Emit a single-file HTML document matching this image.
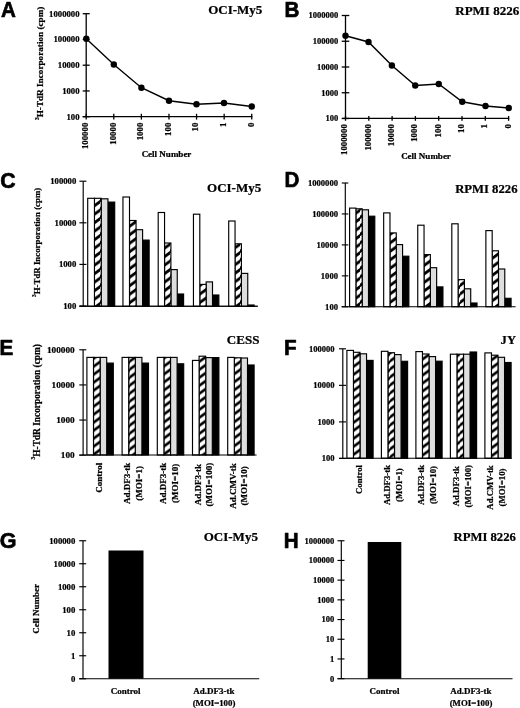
<!DOCTYPE html>
<html><head><meta charset="utf-8"><title>Figure</title>
<style>html,body{margin:0;padding:0;background:#fff;}svg{display:block;}</style>
</head><body>
<svg width="520" height="708" viewBox="0 0 520 708">
<defs>
<pattern id="hatch" patternUnits="userSpaceOnUse" width="10" height="8.5" patternTransform="translate(0,5.6)"><path d="M-10,15.3 L20,-6.8 M-10,23.8 L20,1.7 M-10,6.8 L20,-15.3" stroke="#000" stroke-width="2.8" fill="none"/></pattern>
<pattern id="hatch2" patternUnits="userSpaceOnUse" width="10" height="8.0" patternTransform="translate(0,1.5)"><path d="M-10,14.8 L20,-6.8 M-10,22.8 L20,1.2 M-10,6.8 L20,-14.8" stroke="#000" stroke-width="2.7" fill="none"/></pattern>
<filter id="gray" filterUnits="userSpaceOnUse" x="0" y="0" width="520" height="708" color-interpolation-filters="sRGB"><feGaussianBlur stdDeviation="0.35"/><feColorMatrix type="saturate" values="0"/></filter>
</defs>
<rect width="520" height="708" fill="#fff"/>
<g filter="url(#gray)">
<rect width="520" height="708" fill="#fff"/>
<text transform="translate(0.90,16.60) scale(0.94,1)" font-family='"Liberation Sans", sans-serif' font-size="21.9" font-weight="bold" stroke="#000" stroke-width="0.7" stroke-linejoin="round">A</text>
<text x="262.30" y="13.60" font-family='"Liberation Serif", serif' font-size="13" font-weight="bold" text-anchor="end" stroke="#000" stroke-width="0.24" >OCI-My5</text>
<line x1="86.20" y1="13.70" x2="86.20" y2="116.70" stroke="#000" stroke-width="1.3"/>
<line x1="82.70" y1="13.70" x2="89.70" y2="13.70" stroke="#000" stroke-width="1.3"/>
<text x="79.50" y="16.60" font-family='"Liberation Serif", serif' font-size="8.7" font-weight="bold" text-anchor="end" stroke="#000" stroke-width="0.24" >1000000</text>
<line x1="82.70" y1="39.45" x2="89.70" y2="39.45" stroke="#000" stroke-width="1.3"/>
<text x="79.50" y="42.35" font-family='"Liberation Serif", serif' font-size="8.7" font-weight="bold" text-anchor="end" stroke="#000" stroke-width="0.24" >100000</text>
<line x1="82.70" y1="65.20" x2="89.70" y2="65.20" stroke="#000" stroke-width="1.3"/>
<text x="79.50" y="68.10" font-family='"Liberation Serif", serif' font-size="8.7" font-weight="bold" text-anchor="end" stroke="#000" stroke-width="0.24" >10000</text>
<line x1="82.70" y1="90.95" x2="89.70" y2="90.95" stroke="#000" stroke-width="1.3"/>
<text x="79.50" y="93.85" font-family='"Liberation Serif", serif' font-size="8.7" font-weight="bold" text-anchor="end" stroke="#000" stroke-width="0.24" >1000</text>
<line x1="82.70" y1="116.70" x2="89.70" y2="116.70" stroke="#000" stroke-width="1.3"/>
<text x="79.50" y="119.60" font-family='"Liberation Serif", serif' font-size="8.7" font-weight="bold" text-anchor="end" stroke="#000" stroke-width="0.24" >100</text>
<text transform="translate(43.40,120.00) rotate(-90)" font-family='"Liberation Serif", serif' font-size="9.2" font-weight="bold" text-anchor="start" stroke="#000" stroke-width="0.24"><tspan font-size="5.34" dy="-4.23">3</tspan><tspan dy="4.23">H-TdR Incorporation (cpm)</tspan></text>
<line x1="82.70" y1="116.70" x2="252.34" y2="116.70" stroke="#000" stroke-width="1.3"/>
<line x1="86.20" y1="113.80" x2="86.20" y2="119.60" stroke="#000" stroke-width="1.3"/>
<text transform="translate(88.10,122.70) rotate(-90)" font-family='"Liberation Serif", serif' font-size="8.8" font-weight="bold" text-anchor="end" stroke="#000" stroke-width="0.24">100000</text>
<line x1="113.79" y1="113.80" x2="113.79" y2="119.60" stroke="#000" stroke-width="1.3"/>
<text transform="translate(115.69,122.70) rotate(-90)" font-family='"Liberation Serif", serif' font-size="8.8" font-weight="bold" text-anchor="end" stroke="#000" stroke-width="0.24">10000</text>
<line x1="141.38" y1="113.80" x2="141.38" y2="119.60" stroke="#000" stroke-width="1.3"/>
<text transform="translate(143.28,122.70) rotate(-90)" font-family='"Liberation Serif", serif' font-size="8.8" font-weight="bold" text-anchor="end" stroke="#000" stroke-width="0.24">1000</text>
<line x1="168.97" y1="113.80" x2="168.97" y2="119.60" stroke="#000" stroke-width="1.3"/>
<text transform="translate(170.87,122.70) rotate(-90)" font-family='"Liberation Serif", serif' font-size="8.8" font-weight="bold" text-anchor="end" stroke="#000" stroke-width="0.24">100</text>
<line x1="196.56" y1="113.80" x2="196.56" y2="119.60" stroke="#000" stroke-width="1.3"/>
<text transform="translate(198.46,122.70) rotate(-90)" font-family='"Liberation Serif", serif' font-size="8.8" font-weight="bold" text-anchor="end" stroke="#000" stroke-width="0.24">10</text>
<line x1="224.15" y1="113.80" x2="224.15" y2="119.60" stroke="#000" stroke-width="1.3"/>
<text transform="translate(226.05,122.70) rotate(-90)" font-family='"Liberation Serif", serif' font-size="8.8" font-weight="bold" text-anchor="end" stroke="#000" stroke-width="0.24">1</text>
<line x1="251.74" y1="113.80" x2="251.74" y2="119.60" stroke="#000" stroke-width="1.3"/>
<text transform="translate(253.64,122.70) rotate(-90)" font-family='"Liberation Serif", serif' font-size="8.8" font-weight="bold" text-anchor="end" stroke="#000" stroke-width="0.24">0</text>
<text x="166.50" y="157.40" font-family='"Liberation Serif", serif' font-size="9" font-weight="bold" text-anchor="middle" stroke="#000" stroke-width="0.24" >Cell Number</text>
<polyline fill="none" stroke="#000" stroke-width="1.4" points="86.30,38.80 113.80,64.50 141.40,87.70 169.00,100.75 196.50,104.25 224.00,103.00 251.75,106.50"/>
<circle cx="86.30" cy="38.80" r="3.2" fill="#000"/>
<circle cx="113.80" cy="64.50" r="3.2" fill="#000"/>
<circle cx="141.40" cy="87.70" r="3.2" fill="#000"/>
<circle cx="169.00" cy="100.75" r="3.2" fill="#000"/>
<circle cx="196.50" cy="104.25" r="3.2" fill="#000"/>
<circle cx="224.00" cy="103.00" r="3.2" fill="#000"/>
<circle cx="251.75" cy="106.50" r="3.2" fill="#000"/>
<text transform="translate(284.50,16.60) scale(0.94,1)" font-family='"Liberation Sans", sans-serif' font-size="21.9" font-weight="bold" stroke="#000" stroke-width="0.7" stroke-linejoin="round">B</text>
<text x="519.20" y="15.25" font-family='"Liberation Serif", serif' font-size="13" font-weight="bold" text-anchor="end" stroke="#000" stroke-width="0.24" >RPMI 8226</text>
<line x1="345.50" y1="15.50" x2="345.50" y2="118.50" stroke="#000" stroke-width="1.3"/>
<line x1="341.70" y1="15.50" x2="349.30" y2="15.50" stroke="#000" stroke-width="1.3"/>
<text x="338.20" y="18.40" font-family='"Liberation Serif", serif' font-size="8.5" font-weight="bold" text-anchor="end" stroke="#000" stroke-width="0.24" >1000000</text>
<line x1="341.70" y1="41.25" x2="349.30" y2="41.25" stroke="#000" stroke-width="1.3"/>
<text x="338.20" y="44.15" font-family='"Liberation Serif", serif' font-size="8.5" font-weight="bold" text-anchor="end" stroke="#000" stroke-width="0.24" >100000</text>
<line x1="341.70" y1="67.00" x2="349.30" y2="67.00" stroke="#000" stroke-width="1.3"/>
<text x="338.20" y="69.90" font-family='"Liberation Serif", serif' font-size="8.5" font-weight="bold" text-anchor="end" stroke="#000" stroke-width="0.24" >10000</text>
<line x1="341.70" y1="92.75" x2="349.30" y2="92.75" stroke="#000" stroke-width="1.3"/>
<text x="338.20" y="95.65" font-family='"Liberation Serif", serif' font-size="8.5" font-weight="bold" text-anchor="end" stroke="#000" stroke-width="0.24" >1000</text>
<line x1="341.70" y1="118.50" x2="349.30" y2="118.50" stroke="#000" stroke-width="1.3"/>
<text x="338.20" y="121.40" font-family='"Liberation Serif", serif' font-size="8.5" font-weight="bold" text-anchor="end" stroke="#000" stroke-width="0.24" >100</text>
<line x1="342.30" y1="118.30" x2="509.20" y2="118.30" stroke="#000" stroke-width="1.3"/>
<line x1="345.50" y1="116.00" x2="345.50" y2="120.80" stroke="#000" stroke-width="1.3"/>
<text transform="translate(347.40,124.20) rotate(-90)" font-family='"Liberation Serif", serif' font-size="8.8" font-weight="bold" text-anchor="end" stroke="#000" stroke-width="0.24">1000000</text>
<line x1="368.80" y1="116.00" x2="368.80" y2="120.80" stroke="#000" stroke-width="1.3"/>
<text transform="translate(370.70,124.20) rotate(-90)" font-family='"Liberation Serif", serif' font-size="8.8" font-weight="bold" text-anchor="end" stroke="#000" stroke-width="0.24">100000</text>
<line x1="392.10" y1="116.00" x2="392.10" y2="120.80" stroke="#000" stroke-width="1.3"/>
<text transform="translate(394.00,124.20) rotate(-90)" font-family='"Liberation Serif", serif' font-size="8.8" font-weight="bold" text-anchor="end" stroke="#000" stroke-width="0.24">10000</text>
<line x1="415.40" y1="116.00" x2="415.40" y2="120.80" stroke="#000" stroke-width="1.3"/>
<text transform="translate(417.30,124.20) rotate(-90)" font-family='"Liberation Serif", serif' font-size="8.8" font-weight="bold" text-anchor="end" stroke="#000" stroke-width="0.24">1000</text>
<line x1="438.70" y1="116.00" x2="438.70" y2="120.80" stroke="#000" stroke-width="1.3"/>
<text transform="translate(440.60,124.20) rotate(-90)" font-family='"Liberation Serif", serif' font-size="8.8" font-weight="bold" text-anchor="end" stroke="#000" stroke-width="0.24">100</text>
<line x1="462.00" y1="116.00" x2="462.00" y2="120.80" stroke="#000" stroke-width="1.3"/>
<text transform="translate(463.90,124.20) rotate(-90)" font-family='"Liberation Serif", serif' font-size="8.8" font-weight="bold" text-anchor="end" stroke="#000" stroke-width="0.24">10</text>
<line x1="485.30" y1="116.00" x2="485.30" y2="120.80" stroke="#000" stroke-width="1.3"/>
<text transform="translate(487.20,124.20) rotate(-90)" font-family='"Liberation Serif", serif' font-size="8.8" font-weight="bold" text-anchor="end" stroke="#000" stroke-width="0.24">1</text>
<line x1="508.60" y1="116.00" x2="508.60" y2="120.80" stroke="#000" stroke-width="1.3"/>
<text transform="translate(510.50,124.20) rotate(-90)" font-family='"Liberation Serif", serif' font-size="8.8" font-weight="bold" text-anchor="end" stroke="#000" stroke-width="0.24">0</text>
<text x="426.00" y="159.00" font-family='"Liberation Serif", serif' font-size="9" font-weight="bold" text-anchor="middle" stroke="#000" stroke-width="0.24" >Cell Number</text>
<polyline fill="none" stroke="#000" stroke-width="1.4" points="345.50,35.75 368.50,42.00 391.90,65.50 415.25,85.50 438.75,84.00 462.25,101.75 485.50,106.00 508.75,108.00"/>
<circle cx="345.50" cy="35.75" r="3.2" fill="#000"/>
<circle cx="368.50" cy="42.00" r="3.2" fill="#000"/>
<circle cx="391.90" cy="65.50" r="3.2" fill="#000"/>
<circle cx="415.25" cy="85.50" r="3.2" fill="#000"/>
<circle cx="438.75" cy="84.00" r="3.2" fill="#000"/>
<circle cx="462.25" cy="101.75" r="3.2" fill="#000"/>
<circle cx="485.50" cy="106.00" r="3.2" fill="#000"/>
<circle cx="508.75" cy="108.00" r="3.2" fill="#000"/>
<text transform="translate(0.30,188.30) scale(0.94,1)" font-family='"Liberation Sans", sans-serif' font-size="22.6" font-weight="bold" stroke="#000" stroke-width="0.7" stroke-linejoin="round">C</text>
<text x="261.20" y="191.70" font-family='"Liberation Serif", serif' font-size="13" font-weight="bold" text-anchor="end" stroke="#000" stroke-width="0.24" >OCI-My5</text>
<line x1="83.20" y1="181.20" x2="83.20" y2="306.20" stroke="#000" stroke-width="1.15"/>
<line x1="79.40" y1="181.20" x2="86.40" y2="181.20" stroke="#000" stroke-width="1.15"/>
<text x="76.30" y="184.10" font-family='"Liberation Serif", serif' font-size="8.7" font-weight="bold" text-anchor="end" stroke="#000" stroke-width="0.24" >100000</text>
<line x1="79.40" y1="222.80" x2="86.40" y2="222.80" stroke="#000" stroke-width="1.15"/>
<text x="76.30" y="225.70" font-family='"Liberation Serif", serif' font-size="8.7" font-weight="bold" text-anchor="end" stroke="#000" stroke-width="0.24" >10000</text>
<line x1="79.40" y1="264.40" x2="86.40" y2="264.40" stroke="#000" stroke-width="1.15"/>
<text x="76.30" y="267.30" font-family='"Liberation Serif", serif' font-size="8.7" font-weight="bold" text-anchor="end" stroke="#000" stroke-width="0.24" >1000</text>
<line x1="79.40" y1="306.00" x2="86.40" y2="306.00" stroke="#000" stroke-width="1.15"/>
<text x="76.30" y="308.90" font-family='"Liberation Serif", serif' font-size="8.7" font-weight="bold" text-anchor="end" stroke="#000" stroke-width="0.24" >100</text>
<text transform="translate(40.30,296.90) rotate(-90)" font-family='"Liberation Serif", serif' font-size="8.85" font-weight="bold" text-anchor="start" stroke="#000" stroke-width="0.24"><tspan font-size="5.13" dy="-4.07">3</tspan><tspan dy="4.07">H-TdR Incorporation (cpm)</tspan></text>
<line x1="79.40" y1="306.20" x2="257.70" y2="306.20" stroke="#000" stroke-width="1.15"/>
<rect x="107.95" y="202.10" width="6.75" height="104.10" fill="#000" stroke="#000" stroke-width="1.15"/>
<rect x="101.20" y="198.80" width="6.75" height="107.40" fill="#dedede" stroke="#000" stroke-width="1.15"/>
<rect x="94.45" y="198.30" width="6.75" height="107.90" fill="#fff"/>
<rect x="94.45" y="198.30" width="6.75" height="107.90" fill="url(#hatch)" stroke="#000" stroke-width="1.15"/>
<rect x="87.70" y="198.30" width="6.75" height="107.90" fill="#fff" stroke="#000" stroke-width="1.15"/>
<rect x="142.60" y="240.10" width="6.55" height="66.10" fill="#000" stroke="#000" stroke-width="1.15"/>
<rect x="136.05" y="229.70" width="6.55" height="76.50" fill="#dedede" stroke="#000" stroke-width="1.15"/>
<rect x="129.50" y="220.50" width="6.55" height="85.70" fill="#fff"/>
<rect x="129.50" y="220.50" width="6.55" height="85.70" fill="url(#hatch)" stroke="#000" stroke-width="1.15"/>
<rect x="122.95" y="197.00" width="6.55" height="109.20" fill="#fff" stroke="#000" stroke-width="1.15"/>
<rect x="177.25" y="294.00" width="6.35" height="12.20" fill="#000" stroke="#000" stroke-width="1.15"/>
<rect x="170.90" y="269.60" width="6.35" height="36.60" fill="#dedede" stroke="#000" stroke-width="1.15"/>
<rect x="164.55" y="243.00" width="6.35" height="63.20" fill="#fff"/>
<rect x="164.55" y="243.00" width="6.35" height="63.20" fill="url(#hatch)" stroke="#000" stroke-width="1.15"/>
<rect x="158.20" y="212.50" width="6.35" height="93.70" fill="#fff" stroke="#000" stroke-width="1.15"/>
<rect x="212.50" y="295.00" width="6.35" height="11.20" fill="#000" stroke="#000" stroke-width="1.15"/>
<rect x="206.15" y="281.90" width="6.35" height="24.30" fill="#dedede" stroke="#000" stroke-width="1.15"/>
<rect x="199.80" y="284.40" width="6.35" height="21.80" fill="#fff"/>
<rect x="199.80" y="284.40" width="6.35" height="21.80" fill="url(#hatch)" stroke="#000" stroke-width="1.15"/>
<rect x="193.45" y="214.20" width="6.35" height="92.00" fill="#fff" stroke="#000" stroke-width="1.15"/>
<rect x="247.75" y="305.00" width="6.35" height="1.20" fill="#000" stroke="#000" stroke-width="1.15"/>
<rect x="241.40" y="273.40" width="6.35" height="32.80" fill="#dedede" stroke="#000" stroke-width="1.15"/>
<rect x="235.05" y="243.80" width="6.35" height="62.40" fill="#fff"/>
<rect x="235.05" y="243.80" width="6.35" height="62.40" fill="url(#hatch)" stroke="#000" stroke-width="1.15"/>
<rect x="228.70" y="221.00" width="6.35" height="85.20" fill="#fff" stroke="#000" stroke-width="1.15"/>
<line x1="79.40" y1="306.20" x2="257.70" y2="306.20" stroke="#000" stroke-width="1.15"/>
<text transform="translate(284.50,187.40) scale(0.94,1)" font-family='"Liberation Sans", sans-serif' font-size="21.9" font-weight="bold" stroke="#000" stroke-width="0.7" stroke-linejoin="round">D</text>
<text x="517.50" y="193.00" font-family='"Liberation Serif", serif' font-size="12.7" font-weight="bold" text-anchor="end" stroke="#000" stroke-width="0.24" >RPMI 8226</text>
<line x1="345.30" y1="183.00" x2="345.30" y2="306.70" stroke="#000" stroke-width="1.15"/>
<line x1="341.80" y1="183.00" x2="348.30" y2="183.00" stroke="#000" stroke-width="1.15"/>
<text x="338.00" y="185.90" font-family='"Liberation Serif", serif' font-size="8.6" font-weight="bold" text-anchor="end" stroke="#000" stroke-width="0.24" >1000000</text>
<line x1="341.80" y1="213.95" x2="348.30" y2="213.95" stroke="#000" stroke-width="1.15"/>
<text x="338.00" y="216.85" font-family='"Liberation Serif", serif' font-size="8.6" font-weight="bold" text-anchor="end" stroke="#000" stroke-width="0.24" >100000</text>
<line x1="341.80" y1="244.90" x2="348.30" y2="244.90" stroke="#000" stroke-width="1.15"/>
<text x="338.00" y="247.80" font-family='"Liberation Serif", serif' font-size="8.6" font-weight="bold" text-anchor="end" stroke="#000" stroke-width="0.24" >10000</text>
<line x1="341.80" y1="275.85" x2="348.30" y2="275.85" stroke="#000" stroke-width="1.15"/>
<text x="338.00" y="278.75" font-family='"Liberation Serif", serif' font-size="8.6" font-weight="bold" text-anchor="end" stroke="#000" stroke-width="0.24" >1000</text>
<line x1="341.80" y1="306.80" x2="348.30" y2="306.80" stroke="#000" stroke-width="1.15"/>
<text x="338.00" y="309.70" font-family='"Liberation Serif", serif' font-size="8.6" font-weight="bold" text-anchor="end" stroke="#000" stroke-width="0.24" >100</text>
<rect x="368.50" y="216.20" width="6.30" height="90.50" fill="#000" stroke="#000" stroke-width="1.15"/>
<rect x="362.20" y="209.80" width="6.30" height="96.90" fill="#dedede" stroke="#000" stroke-width="1.15"/>
<rect x="355.90" y="208.80" width="6.30" height="97.90" fill="#fff"/>
<rect x="355.90" y="208.80" width="6.30" height="97.90" fill="url(#hatch)" stroke="#000" stroke-width="1.15"/>
<rect x="349.60" y="208.10" width="6.30" height="98.60" fill="#fff" stroke="#000" stroke-width="1.15"/>
<rect x="402.57" y="256.20" width="6.30" height="50.50" fill="#000" stroke="#000" stroke-width="1.15"/>
<rect x="396.27" y="244.60" width="6.30" height="62.10" fill="#dedede" stroke="#000" stroke-width="1.15"/>
<rect x="389.97" y="232.90" width="6.30" height="73.80" fill="#fff"/>
<rect x="389.97" y="232.90" width="6.30" height="73.80" fill="url(#hatch)" stroke="#000" stroke-width="1.15"/>
<rect x="383.67" y="212.90" width="6.30" height="93.80" fill="#fff" stroke="#000" stroke-width="1.15"/>
<rect x="436.64" y="286.90" width="6.30" height="19.80" fill="#000" stroke="#000" stroke-width="1.15"/>
<rect x="430.34" y="267.70" width="6.30" height="39.00" fill="#dedede" stroke="#000" stroke-width="1.15"/>
<rect x="424.04" y="254.60" width="6.30" height="52.10" fill="#fff"/>
<rect x="424.04" y="254.60" width="6.30" height="52.10" fill="url(#hatch)" stroke="#000" stroke-width="1.15"/>
<rect x="417.74" y="225.20" width="6.30" height="81.50" fill="#fff" stroke="#000" stroke-width="1.15"/>
<rect x="470.71" y="303.00" width="6.30" height="3.70" fill="#000" stroke="#000" stroke-width="1.15"/>
<rect x="464.41" y="288.80" width="6.30" height="17.90" fill="#dedede" stroke="#000" stroke-width="1.15"/>
<rect x="458.11" y="279.60" width="6.30" height="27.10" fill="#fff"/>
<rect x="458.11" y="279.60" width="6.30" height="27.10" fill="url(#hatch)" stroke="#000" stroke-width="1.15"/>
<rect x="451.81" y="223.80" width="6.30" height="82.90" fill="#fff" stroke="#000" stroke-width="1.15"/>
<rect x="504.78" y="298.30" width="6.30" height="8.40" fill="#000" stroke="#000" stroke-width="1.15"/>
<rect x="498.48" y="269.00" width="6.30" height="37.70" fill="#dedede" stroke="#000" stroke-width="1.15"/>
<rect x="492.18" y="250.80" width="6.30" height="55.90" fill="#fff"/>
<rect x="492.18" y="250.80" width="6.30" height="55.90" fill="url(#hatch)" stroke="#000" stroke-width="1.15"/>
<rect x="485.88" y="230.60" width="6.30" height="76.10" fill="#fff" stroke="#000" stroke-width="1.15"/>
<line x1="341.50" y1="306.70" x2="515.60" y2="306.70" stroke="#000" stroke-width="1.15"/>
<text transform="translate(-0.50,355.00) scale(0.94,1)" font-family='"Liberation Sans", sans-serif' font-size="21.9" font-weight="bold" stroke="#000" stroke-width="0.7" stroke-linejoin="round">E</text>
<text x="259.40" y="343.60" font-family='"Liberation Serif", serif' font-size="13" font-weight="bold" text-anchor="end" stroke="#000" stroke-width="0.24" >CESS</text>
<line x1="83.10" y1="349.80" x2="83.10" y2="455.00" stroke="#000" stroke-width="1.15"/>
<line x1="79.30" y1="349.80" x2="86.30" y2="349.80" stroke="#000" stroke-width="1.15"/>
<text x="74.70" y="352.60" font-family='"Liberation Serif", serif' font-size="9.25" font-weight="bold" text-anchor="end" stroke="#000" stroke-width="0.24" >100000</text>
<line x1="79.30" y1="384.93" x2="86.30" y2="384.93" stroke="#000" stroke-width="1.15"/>
<text x="74.70" y="387.73" font-family='"Liberation Serif", serif' font-size="9.25" font-weight="bold" text-anchor="end" stroke="#000" stroke-width="0.24" >10000</text>
<line x1="79.30" y1="420.06" x2="86.30" y2="420.06" stroke="#000" stroke-width="1.15"/>
<text x="74.70" y="422.86" font-family='"Liberation Serif", serif' font-size="9.25" font-weight="bold" text-anchor="end" stroke="#000" stroke-width="0.24" >1000</text>
<line x1="79.30" y1="455.19" x2="86.30" y2="455.19" stroke="#000" stroke-width="1.15"/>
<text x="74.70" y="457.99" font-family='"Liberation Serif", serif' font-size="9.25" font-weight="bold" text-anchor="end" stroke="#000" stroke-width="0.24" >100</text>
<text transform="translate(39.50,459.40) rotate(-90)" font-family='"Liberation Serif", serif' font-size="9.35" font-weight="bold" text-anchor="start" stroke="#000" stroke-width="0.24"><tspan font-size="5.42" dy="-4.30">3</tspan><tspan dy="4.30">H-TdR Incorporation (cpm)</tspan></text>
<rect x="106.70" y="363.10" width="6.60" height="91.90" fill="#000" stroke="#000" stroke-width="1.15"/>
<rect x="100.10" y="357.40" width="6.60" height="97.60" fill="#dedede" stroke="#000" stroke-width="1.15"/>
<rect x="93.50" y="357.40" width="6.60" height="97.60" fill="#fff"/>
<rect x="93.50" y="357.40" width="6.60" height="97.60" fill="url(#hatch2)" stroke="#000" stroke-width="1.15"/>
<rect x="86.90" y="357.40" width="6.60" height="97.60" fill="#fff" stroke="#000" stroke-width="1.15"/>
<rect x="141.90" y="363.10" width="6.60" height="91.90" fill="#000" stroke="#000" stroke-width="1.15"/>
<rect x="135.30" y="357.40" width="6.60" height="97.60" fill="#dedede" stroke="#000" stroke-width="1.15"/>
<rect x="128.70" y="357.40" width="6.60" height="97.60" fill="#fff"/>
<rect x="128.70" y="357.40" width="6.60" height="97.60" fill="url(#hatch2)" stroke="#000" stroke-width="1.15"/>
<rect x="122.10" y="357.40" width="6.60" height="97.60" fill="#fff" stroke="#000" stroke-width="1.15"/>
<rect x="177.10" y="363.80" width="6.60" height="91.20" fill="#000" stroke="#000" stroke-width="1.15"/>
<rect x="170.50" y="357.40" width="6.60" height="97.60" fill="#dedede" stroke="#000" stroke-width="1.15"/>
<rect x="163.90" y="357.40" width="6.60" height="97.60" fill="#fff"/>
<rect x="163.90" y="357.40" width="6.60" height="97.60" fill="url(#hatch2)" stroke="#000" stroke-width="1.15"/>
<rect x="157.30" y="357.40" width="6.60" height="97.60" fill="#fff" stroke="#000" stroke-width="1.15"/>
<rect x="212.30" y="357.60" width="6.60" height="97.40" fill="#000" stroke="#000" stroke-width="1.15"/>
<rect x="205.70" y="357.60" width="6.60" height="97.40" fill="#dedede" stroke="#000" stroke-width="1.15"/>
<rect x="199.10" y="356.20" width="6.60" height="98.80" fill="#fff"/>
<rect x="199.10" y="356.20" width="6.60" height="98.80" fill="url(#hatch2)" stroke="#000" stroke-width="1.15"/>
<rect x="192.50" y="360.40" width="6.60" height="94.60" fill="#fff" stroke="#000" stroke-width="1.15"/>
<rect x="247.50" y="365.00" width="6.60" height="90.00" fill="#000" stroke="#000" stroke-width="1.15"/>
<rect x="240.90" y="358.00" width="6.60" height="97.00" fill="#dedede" stroke="#000" stroke-width="1.15"/>
<rect x="234.30" y="357.80" width="6.60" height="97.20" fill="#fff"/>
<rect x="234.30" y="357.80" width="6.60" height="97.20" fill="url(#hatch2)" stroke="#000" stroke-width="1.15"/>
<rect x="227.70" y="357.40" width="6.60" height="97.60" fill="#fff" stroke="#000" stroke-width="1.15"/>
<line x1="79.30" y1="455.00" x2="256.60" y2="455.00" stroke="#000" stroke-width="1.15"/>
<text transform="translate(101.60,462.80) rotate(-90)" font-family='"Liberation Serif", serif' font-size="9" font-weight="bold" text-anchor="end" stroke="#000" stroke-width="0.24">Control</text>
<text transform="translate(130.30,483.42) rotate(-90)" font-family='"Liberation Serif", serif' font-size="9" font-weight="bold" text-anchor="middle" stroke="#000" stroke-width="0.24">Ad.DF3-tk</text>
<text transform="translate(141.60,483.42) rotate(-90)" font-family='"Liberation Serif", serif' font-size="9" font-weight="bold" text-anchor="middle" stroke="#000" stroke-width="0.24">(MOI=1)</text>
<text transform="translate(166.20,483.42) rotate(-90)" font-family='"Liberation Serif", serif' font-size="9" font-weight="bold" text-anchor="middle" stroke="#000" stroke-width="0.24">Ad.DF3-tk</text>
<text transform="translate(177.50,483.42) rotate(-90)" font-family='"Liberation Serif", serif' font-size="9" font-weight="bold" text-anchor="middle" stroke="#000" stroke-width="0.24">(MOI=10)</text>
<text transform="translate(201.05,484.61) rotate(-90)" font-family='"Liberation Serif", serif' font-size="9" font-weight="bold" text-anchor="middle" stroke="#000" stroke-width="0.24">Ad.DF3-tk</text>
<text transform="translate(212.35,484.61) rotate(-90)" font-family='"Liberation Serif", serif' font-size="9" font-weight="bold" text-anchor="middle" stroke="#000" stroke-width="0.24">(MOI=100)</text>
<text transform="translate(235.85,485.92) rotate(-90)" font-family='"Liberation Serif", serif' font-size="9" font-weight="bold" text-anchor="middle" stroke="#000" stroke-width="0.24">Ad.CMV-tk</text>
<text transform="translate(247.15,485.92) rotate(-90)" font-family='"Liberation Serif", serif' font-size="9" font-weight="bold" text-anchor="middle" stroke="#000" stroke-width="0.24">(MOI=10)</text>
<text transform="translate(284.10,354.80) scale(0.94,1)" font-family='"Liberation Sans", sans-serif' font-size="21.9" font-weight="bold" stroke="#000" stroke-width="0.7" stroke-linejoin="round">F</text>
<text x="516.00" y="344.20" font-family='"Liberation Serif", serif' font-size="12.6" font-weight="bold" text-anchor="end" stroke="#000" stroke-width="0.24" >JY</text>
<line x1="342.80" y1="348.80" x2="342.80" y2="458.25" stroke="#000" stroke-width="1.15"/>
<line x1="339.00" y1="348.80" x2="346.00" y2="348.80" stroke="#000" stroke-width="1.15"/>
<text x="334.50" y="351.70" font-family='"Liberation Serif", serif' font-size="8.5" font-weight="bold" text-anchor="end" stroke="#000" stroke-width="0.24" >100000</text>
<line x1="339.00" y1="385.35" x2="346.00" y2="385.35" stroke="#000" stroke-width="1.15"/>
<text x="334.50" y="388.25" font-family='"Liberation Serif", serif' font-size="8.5" font-weight="bold" text-anchor="end" stroke="#000" stroke-width="0.24" >10000</text>
<line x1="339.00" y1="421.90" x2="346.00" y2="421.90" stroke="#000" stroke-width="1.15"/>
<text x="334.50" y="424.80" font-family='"Liberation Serif", serif' font-size="8.5" font-weight="bold" text-anchor="end" stroke="#000" stroke-width="0.24" >1000</text>
<line x1="339.00" y1="458.45" x2="346.00" y2="458.45" stroke="#000" stroke-width="1.15"/>
<text x="334.50" y="461.35" font-family='"Liberation Serif", serif' font-size="8.5" font-weight="bold" text-anchor="end" stroke="#000" stroke-width="0.24" >100</text>
<rect x="366.55" y="360.40" width="6.55" height="97.85" fill="#000" stroke="#000" stroke-width="1.15"/>
<rect x="360.00" y="353.80" width="6.55" height="104.45" fill="#dedede" stroke="#000" stroke-width="1.15"/>
<rect x="353.45" y="352.30" width="6.55" height="105.95" fill="#fff"/>
<rect x="353.45" y="352.30" width="6.55" height="105.95" fill="url(#hatch2)" stroke="#000" stroke-width="1.15"/>
<rect x="346.90" y="350.40" width="6.55" height="107.85" fill="#fff" stroke="#000" stroke-width="1.15"/>
<rect x="401.05" y="361.30" width="6.55" height="96.95" fill="#000" stroke="#000" stroke-width="1.15"/>
<rect x="394.50" y="354.60" width="6.55" height="103.65" fill="#dedede" stroke="#000" stroke-width="1.15"/>
<rect x="387.95" y="352.70" width="6.55" height="105.55" fill="#fff"/>
<rect x="387.95" y="352.70" width="6.55" height="105.55" fill="url(#hatch2)" stroke="#000" stroke-width="1.15"/>
<rect x="381.40" y="351.30" width="6.55" height="106.95" fill="#fff" stroke="#000" stroke-width="1.15"/>
<rect x="435.55" y="361.20" width="6.55" height="97.05" fill="#000" stroke="#000" stroke-width="1.15"/>
<rect x="429.00" y="356.60" width="6.55" height="101.65" fill="#dedede" stroke="#000" stroke-width="1.15"/>
<rect x="422.45" y="354.00" width="6.55" height="104.25" fill="#fff"/>
<rect x="422.45" y="354.00" width="6.55" height="104.25" fill="url(#hatch2)" stroke="#000" stroke-width="1.15"/>
<rect x="415.90" y="351.60" width="6.55" height="106.65" fill="#fff" stroke="#000" stroke-width="1.15"/>
<rect x="470.05" y="352.00" width="6.55" height="106.25" fill="#000" stroke="#000" stroke-width="1.15"/>
<rect x="463.50" y="354.20" width="6.55" height="104.05" fill="#dedede" stroke="#000" stroke-width="1.15"/>
<rect x="456.95" y="354.20" width="6.55" height="104.05" fill="#fff"/>
<rect x="456.95" y="354.20" width="6.55" height="104.05" fill="url(#hatch2)" stroke="#000" stroke-width="1.15"/>
<rect x="450.40" y="354.20" width="6.55" height="104.05" fill="#fff" stroke="#000" stroke-width="1.15"/>
<rect x="504.55" y="362.50" width="6.55" height="95.75" fill="#000" stroke="#000" stroke-width="1.15"/>
<rect x="498.00" y="357.30" width="6.55" height="100.95" fill="#dedede" stroke="#000" stroke-width="1.15"/>
<rect x="491.45" y="355.20" width="6.55" height="103.05" fill="#fff"/>
<rect x="491.45" y="355.20" width="6.55" height="103.05" fill="url(#hatch2)" stroke="#000" stroke-width="1.15"/>
<rect x="484.90" y="352.90" width="6.55" height="105.35" fill="#fff" stroke="#000" stroke-width="1.15"/>
<line x1="339.00" y1="458.25" x2="511.60" y2="458.25" stroke="#000" stroke-width="1.15"/>
<text transform="translate(361.50,465.00) rotate(-90)" font-family='"Liberation Serif", serif' font-size="8.75" font-weight="bold" text-anchor="end" stroke="#000" stroke-width="0.24">Control</text>
<text transform="translate(390.00,485.05) rotate(-90)" font-family='"Liberation Serif", serif' font-size="8.75" font-weight="bold" text-anchor="middle" stroke="#000" stroke-width="0.24">Ad.DF3-tk</text>
<text transform="translate(401.80,485.05) rotate(-90)" font-family='"Liberation Serif", serif' font-size="8.75" font-weight="bold" text-anchor="middle" stroke="#000" stroke-width="0.24">(MOI=1)</text>
<text transform="translate(424.30,485.05) rotate(-90)" font-family='"Liberation Serif", serif' font-size="8.75" font-weight="bold" text-anchor="middle" stroke="#000" stroke-width="0.24">Ad.DF3-tk</text>
<text transform="translate(436.10,485.05) rotate(-90)" font-family='"Liberation Serif", serif' font-size="8.75" font-weight="bold" text-anchor="middle" stroke="#000" stroke-width="0.24">(MOI=10)</text>
<text transform="translate(458.80,486.21) rotate(-90)" font-family='"Liberation Serif", serif' font-size="8.75" font-weight="bold" text-anchor="middle" stroke="#000" stroke-width="0.24">Ad.DF3-tk</text>
<text transform="translate(470.60,486.21) rotate(-90)" font-family='"Liberation Serif", serif' font-size="8.75" font-weight="bold" text-anchor="middle" stroke="#000" stroke-width="0.24">(MOI=100)</text>
<text transform="translate(493.40,487.48) rotate(-90)" font-family='"Liberation Serif", serif' font-size="8.75" font-weight="bold" text-anchor="middle" stroke="#000" stroke-width="0.24">Ad.CMV-tk</text>
<text transform="translate(505.20,487.48) rotate(-90)" font-family='"Liberation Serif", serif' font-size="8.75" font-weight="bold" text-anchor="middle" stroke="#000" stroke-width="0.24">(MOI=10)</text>
<text transform="translate(-0.30,548.30) scale(0.94,1)" font-family='"Liberation Sans", sans-serif' font-size="22.9" font-weight="bold" stroke="#000" stroke-width="0.7" stroke-linejoin="round">G</text>
<text x="257.90" y="540.90" font-family='"Liberation Serif", serif' font-size="13" font-weight="bold" text-anchor="end" stroke="#000" stroke-width="0.24" >OCI-My5</text>
<line x1="83.00" y1="540.75" x2="83.00" y2="678.70" stroke="#000" stroke-width="1.15"/>
<line x1="79.20" y1="540.75" x2="86.20" y2="540.75" stroke="#000" stroke-width="1.15"/>
<text x="75.30" y="543.65" font-family='"Liberation Serif", serif' font-size="8.7" font-weight="bold" text-anchor="end" stroke="#000" stroke-width="0.24" >100000</text>
<line x1="79.20" y1="563.75" x2="86.20" y2="563.75" stroke="#000" stroke-width="1.15"/>
<text x="75.30" y="566.65" font-family='"Liberation Serif", serif' font-size="8.7" font-weight="bold" text-anchor="end" stroke="#000" stroke-width="0.24" >10000</text>
<line x1="79.20" y1="586.75" x2="86.20" y2="586.75" stroke="#000" stroke-width="1.15"/>
<text x="75.30" y="589.65" font-family='"Liberation Serif", serif' font-size="8.7" font-weight="bold" text-anchor="end" stroke="#000" stroke-width="0.24" >1000</text>
<line x1="79.20" y1="609.75" x2="86.20" y2="609.75" stroke="#000" stroke-width="1.15"/>
<text x="75.30" y="612.65" font-family='"Liberation Serif", serif' font-size="8.7" font-weight="bold" text-anchor="end" stroke="#000" stroke-width="0.24" >100</text>
<line x1="79.20" y1="632.75" x2="86.20" y2="632.75" stroke="#000" stroke-width="1.15"/>
<text x="75.30" y="635.65" font-family='"Liberation Serif", serif' font-size="8.7" font-weight="bold" text-anchor="end" stroke="#000" stroke-width="0.24" >10</text>
<line x1="79.20" y1="655.75" x2="86.20" y2="655.75" stroke="#000" stroke-width="1.15"/>
<text x="75.30" y="658.65" font-family='"Liberation Serif", serif' font-size="8.7" font-weight="bold" text-anchor="end" stroke="#000" stroke-width="0.24" >1</text>
<line x1="79.20" y1="678.75" x2="86.20" y2="678.75" stroke="#000" stroke-width="1.15"/>
<text x="75.30" y="681.65" font-family='"Liberation Serif", serif' font-size="8.7" font-weight="bold" text-anchor="end" stroke="#000" stroke-width="0.24" >0</text>
<text transform="translate(38.70,608.80) rotate(-90)" font-family='"Liberation Serif", serif' font-size="9" font-weight="bold" text-anchor="middle" stroke="#000" stroke-width="0.24">Cell Number</text>
<rect x="108.5" y="550.5" width="35.0" height="128.20" fill="#000"/>
<line x1="79.20" y1="678.70" x2="259.20" y2="678.70" stroke="#000" stroke-width="1.15"/>
<text x="125.60" y="694.10" font-family='"Liberation Serif", serif' font-size="9" font-weight="bold" text-anchor="middle" stroke="#000" stroke-width="0.24" >Control</text>
<text x="214.00" y="694.10" font-family='"Liberation Serif", serif' font-size="9" font-weight="bold" text-anchor="middle" stroke="#000" stroke-width="0.24" >Ad.DF3-tk</text>
<text x="214.00" y="705.80" font-family='"Liberation Serif", serif' font-size="8.8" font-weight="bold" text-anchor="middle" stroke="#000" stroke-width="0.24" >(MOI=100)</text>
<text transform="translate(283.70,547.50) scale(0.94,1)" font-family='"Liberation Sans", sans-serif' font-size="21.9" font-weight="bold" stroke="#000" stroke-width="0.7" stroke-linejoin="round">H</text>
<text x="515.90" y="540.90" font-family='"Liberation Serif", serif' font-size="12.7" font-weight="bold" text-anchor="end" stroke="#000" stroke-width="0.24" >RPMI 8226</text>
<line x1="341.30" y1="540.75" x2="341.30" y2="678.70" stroke="#000" stroke-width="1.15"/>
<line x1="337.50" y1="540.75" x2="344.50" y2="540.75" stroke="#000" stroke-width="1.15"/>
<text x="334.30" y="543.65" font-family='"Liberation Serif", serif' font-size="8.5" font-weight="bold" text-anchor="end" stroke="#000" stroke-width="0.24" >1000000</text>
<line x1="337.50" y1="560.45" x2="344.50" y2="560.45" stroke="#000" stroke-width="1.15"/>
<text x="334.30" y="563.35" font-family='"Liberation Serif", serif' font-size="8.5" font-weight="bold" text-anchor="end" stroke="#000" stroke-width="0.24" >100000</text>
<line x1="337.50" y1="580.15" x2="344.50" y2="580.15" stroke="#000" stroke-width="1.15"/>
<text x="334.30" y="583.05" font-family='"Liberation Serif", serif' font-size="8.5" font-weight="bold" text-anchor="end" stroke="#000" stroke-width="0.24" >10000</text>
<line x1="337.50" y1="599.85" x2="344.50" y2="599.85" stroke="#000" stroke-width="1.15"/>
<text x="334.30" y="602.75" font-family='"Liberation Serif", serif' font-size="8.5" font-weight="bold" text-anchor="end" stroke="#000" stroke-width="0.24" >1000</text>
<line x1="337.50" y1="619.55" x2="344.50" y2="619.55" stroke="#000" stroke-width="1.15"/>
<text x="334.30" y="622.45" font-family='"Liberation Serif", serif' font-size="8.5" font-weight="bold" text-anchor="end" stroke="#000" stroke-width="0.24" >100</text>
<line x1="337.50" y1="639.25" x2="344.50" y2="639.25" stroke="#000" stroke-width="1.15"/>
<text x="334.30" y="642.15" font-family='"Liberation Serif", serif' font-size="8.5" font-weight="bold" text-anchor="end" stroke="#000" stroke-width="0.24" >10</text>
<line x1="337.50" y1="658.95" x2="344.50" y2="658.95" stroke="#000" stroke-width="1.15"/>
<text x="334.30" y="661.85" font-family='"Liberation Serif", serif' font-size="8.5" font-weight="bold" text-anchor="end" stroke="#000" stroke-width="0.24" >1</text>
<line x1="337.50" y1="678.65" x2="344.50" y2="678.65" stroke="#000" stroke-width="1.15"/>
<text x="334.30" y="681.55" font-family='"Liberation Serif", serif' font-size="8.5" font-weight="bold" text-anchor="end" stroke="#000" stroke-width="0.24" >0</text>
<rect x="367.7" y="542.0" width="33.6" height="136.70" fill="#000"/>
<line x1="337.50" y1="678.70" x2="512.50" y2="678.70" stroke="#000" stroke-width="1.15"/>
<text x="384.50" y="694.10" font-family='"Liberation Serif", serif' font-size="9" font-weight="bold" text-anchor="middle" stroke="#000" stroke-width="0.24" >Control</text>
<text x="471.00" y="694.10" font-family='"Liberation Serif", serif' font-size="9" font-weight="bold" text-anchor="middle" stroke="#000" stroke-width="0.24" >Ad.DF3-tk</text>
<text x="471.00" y="706.30" font-family='"Liberation Serif", serif' font-size="8.8" font-weight="bold" text-anchor="middle" stroke="#000" stroke-width="0.24" >(MOI=100)</text>
</g>
</svg>
</body></html>
